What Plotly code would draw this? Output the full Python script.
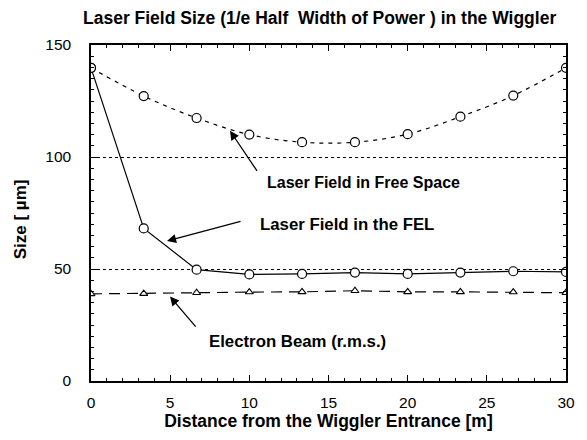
import plotly.graph_objects as go

# Data
distance = [0, 3.33, 6.67, 10, 13.33, 16.67, 20, 23.33, 26.67, 30]
free_space = [139.8, 127.2, 117.4, 110.0, 106.6, 106.6, 110.2, 118.0, 127.4, 139.8]
fel = [139.8, 68.1, 49.7, 47.6, 47.8, 48.4, 47.8, 48.4, 49.0, 48.7]
electron = [38.9, 39.0, 39.4, 39.7, 39.8, 40.3, 39.8, 39.8, 39.7, 39.4]

x_ticks = [0, 5, 10, 15, 20, 25, 30]
y_ticks = [0, 50, 100, 150]

FONT = "Liberation Sans, Arial, sans-serif"

fig = go.Figure()

fig.add_trace(go.Scatter(
    x=distance, y=free_space, mode="lines+markers",
    line=dict(color="black", width=1.2, dash="4px,5px", shape="spline"),
    marker=dict(symbol="circle", size=9, color="white", line=dict(color="black", width=1.2)),
    showlegend=False))

fig.add_trace(go.Scatter(
    x=distance, y=fel, mode="lines+markers",
    line=dict(color="black", width=1.2),
    marker=dict(symbol="circle", size=9, color="white", line=dict(color="black", width=1.2)),
    showlegend=False))

fig.add_trace(go.Scatter(
    x=distance, y=electron, mode="lines+markers",
    line=dict(color="black", width=1.2, dash="11px,7px"),
    marker=dict(symbol="triangle-up", size=7, color="white", line=dict(color="black", width=1.1)),
    showlegend=False))

lab_font = dict(family=FONT, size=16, color="black", weight="bold")
lab_font2 = dict(family=FONT, size=16.8, color="black", weight="bold")

annotations = [
    # texts
    dict(x=10.99, y=88.6, text="Laser Field in Free Space", showarrow=False,
         xanchor="left", yanchor="middle", font=lab_font),
    dict(x=10.55, y=70.0, text="Laser Field in the FEL", showarrow=False,
         xanchor="left", yanchor="middle", font=lab_font2),
    dict(x=7.33, y=17.8, text="Electron Beam (r.m.s.)", showarrow=False,
         xanchor="left", yanchor="middle", font=lab_font2),
    # arrows
    dict(x=8.78, y=111.7, ax=10.55, ay=93.1, axref="x", ayref="y", text="",
         showarrow=True, arrowhead=2, arrowsize=1.4, arrowwidth=1.3, arrowcolor="black"),
    dict(x=4.80, y=62.5, ax=9.54, ay=71.4, axref="x", ayref="y", text="",
         showarrow=True, arrowhead=2, arrowsize=1.4, arrowwidth=1.3, arrowcolor="black"),
    dict(x=4.99, y=37.7, ax=6.69, ay=23.6, axref="x", ayref="y", text="",
         showarrow=True, arrowhead=2, arrowsize=1.4, arrowwidth=1.3, arrowcolor="black"),
    # title
    dict(x=0.482, y=1.08, xref="paper", yref="paper",
         text="Laser Field Size (1/e Half\u00a0\u00a0Width of Power ) in the Wiggler",
         showarrow=False, xanchor="center", yanchor="middle",
         font=dict(family=FONT, size=17.5, color="black", weight="bold")),
    # y-axis title
    dict(x=-0.149, y=0.482, xref="paper", yref="paper", text="Size [ \u00b5m]",
         textangle=-90, showarrow=False, xanchor="center", yanchor="middle",
         font=dict(family=FONT, size=17, color="black", weight="bold")),
]

# page body has an 8px default margin, so the figure is sized to fit the window
fig.update_layout(
    width=579, height=432,
    margin=dict(l=83, r=21, t=37, b=55),
    paper_bgcolor="white", plot_bgcolor="white",
    font=dict(family=FONT, size=15.5, color="black"),
    annotations=annotations,
)

fig.update_xaxes(
    range=[0, 30], tickvals=x_ticks, ticktext=[str(v) for v in x_ticks],
    showline=True, linecolor="black", linewidth=1.5, mirror="allticks",
    ticks="inside", ticklen=6, tickcolor="black", tickwidth=1,
    minor=dict(dtick=1, ticks="inside", ticklen=3, tickcolor="black", tickwidth=1),
    showgrid=False, zeroline=False,
    tickfont=dict(family=FONT, size=15.5, color="black"),
    ticklabelstandoff=7,
    title=dict(text="Distance from the Wiggler Entrance [m]", standoff=4,
               font=dict(family=FONT, size=17.5, color="black", weight="bold")),
)

fig.update_yaxes(
    range=[0, 150], tickvals=y_ticks, ticktext=[str(v) for v in y_ticks],
    showline=True, linecolor="black", linewidth=1.5, mirror="allticks",
    ticks="inside", ticklen=6, tickcolor="black", tickwidth=1,
    minor=dict(dtick=5, ticks="inside", ticklen=3, tickcolor="black", tickwidth=1, showgrid=False),
    showgrid=True, gridcolor="black", gridwidth=1, griddash="dot",
    zeroline=False,
    tickfont=dict(family=FONT, size=15.5, color="black"),
    ticklabelstandoff=15,
)

fig.write_html("out.html")
